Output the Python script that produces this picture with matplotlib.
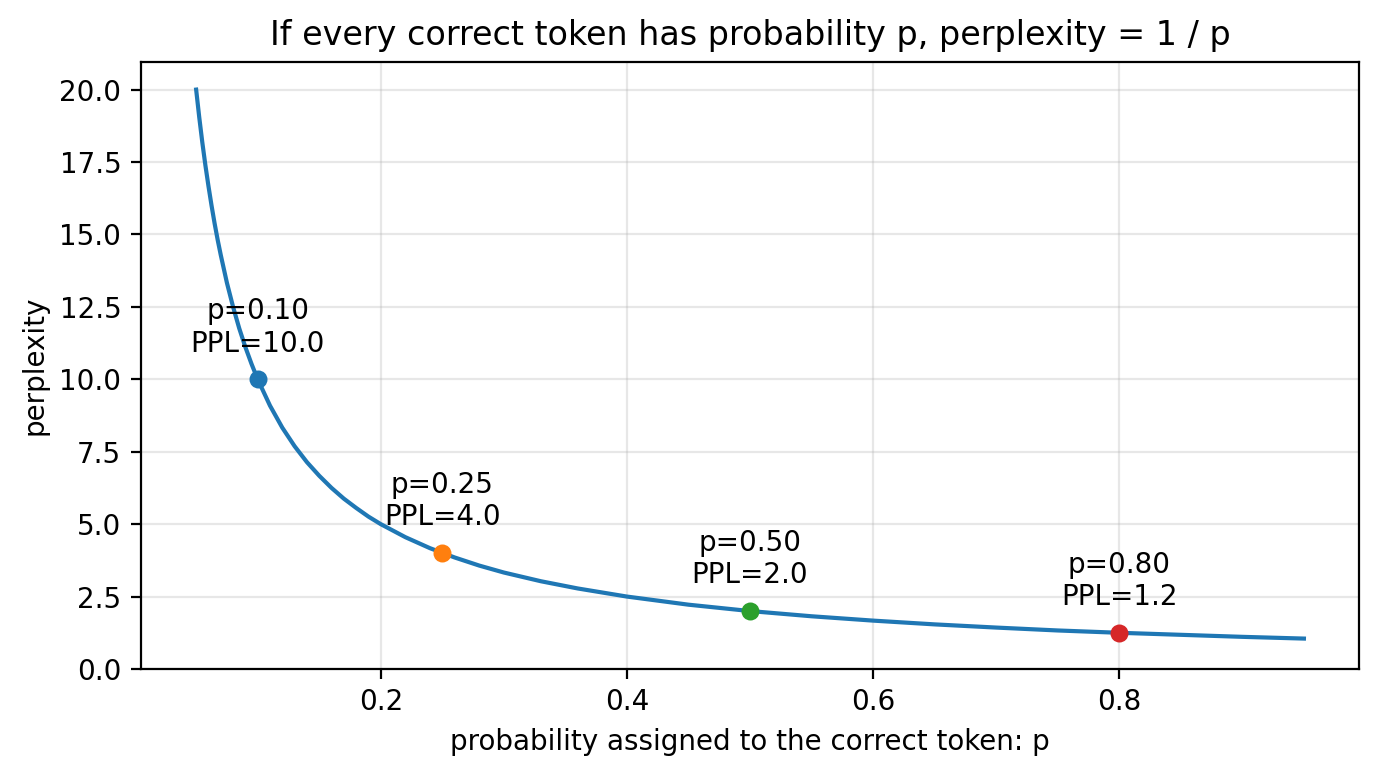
import numpy as np
import matplotlib.pyplot as plt

# curve values
p_curve = [0.05, 0.0525, 0.055, 0.0575, 0.06, 0.0625, 0.065, 0.0675, 0.07, 0.075,
           0.08, 0.085, 0.09, 0.095, 0.10, 0.11, 0.12, 0.13, 0.14, 0.15, 0.16,
           0.17, 0.18, 0.19, 0.20, 0.22, 0.24, 0.26, 0.28, 0.30, 0.33, 0.36,
           0.40, 0.45, 0.50, 0.55, 0.60, 0.65, 0.70, 0.75, 0.80, 0.85, 0.90, 0.95]
ppl_curve = [20.0, 19.05, 18.18, 17.39, 16.67, 16.0, 15.38, 14.81, 14.29, 13.33,
             12.5, 11.76, 11.11, 10.53, 10.0, 9.09, 8.33, 7.69, 7.14, 6.67, 6.25,
             5.88, 5.56, 5.26, 5.0, 4.55, 4.17, 3.85, 3.57, 3.33, 3.03, 2.78,
             2.5, 2.22, 2.0, 1.82, 1.67, 1.54, 1.43, 1.33, 1.25, 1.18, 1.11, 1.05]

# highlighted points
p_marks = [0.10, 0.25, 0.50, 0.80]
ppl_marks = [10.0, 4.0, 2.0, 1.25]
mark_labels = ["p=0.10\nPPL=10.0", "p=0.25\nPPL=4.0", "p=0.50\nPPL=2.0", "p=0.80\nPPL=1.2"]
mark_colors = ["C0", "C1", "C2", "C3"]

fig = plt.figure(figsize=(6.9, 3.885), dpi=200)
ax = fig.add_subplot(111)
fig.subplots_adjust(left=0.102, right=0.985, top=0.920, bottom=0.139)

ax.plot(p_curve, ppl_curve, color="C0", lw=1.5)
for x, y, lab, c in zip(p_marks, ppl_marks, mark_labels, mark_colors):
    ax.scatter([x], [y], color=c, s=30, zorder=3)
    ax.annotate(lab, (x, y), textcoords="offset points", xytext=(0, 10),
                ha="center", fontsize=10)

ax.set_ylim(0, None)
ax.set_title("If every correct token has probability p, perplexity = 1 / p")
ax.set_xlabel("probability assigned to the correct token: p")
ax.set_ylabel("perplexity")
ax.grid(True, alpha=0.3)

fig.savefig("out.png", dpi=200)
